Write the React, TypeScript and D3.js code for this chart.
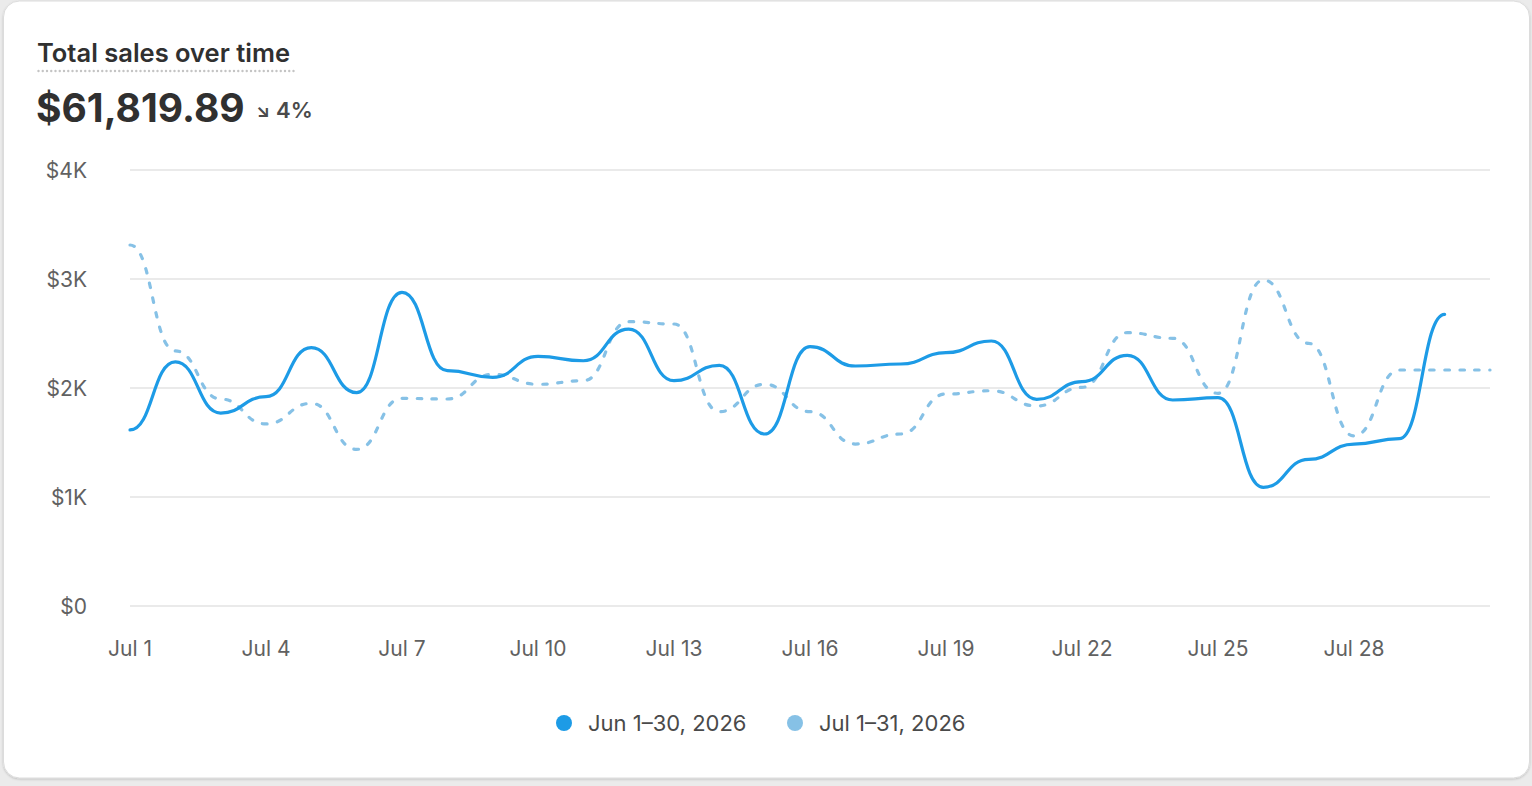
import { useRef, useEffect } from 'react';
import * as d3 from 'd3';

// Jun 1–30, 2026 (solid) and Jul 1–31, 2026 (dashed), one value per day
const juneSales = [
    1615, 2240, 1770, 1920, 2370, 1957, 2878, 2159, 2098, 2290,
    2250, 2541, 2067, 2208, 1578, 2379, 2202, 2220, 2324, 2431,
    1896, 2058, 2300, 1890, 1911, 1089, 1346, 1486, 1535, 2676,
];
const julySales = [
    3312, 2340, 1899, 1670, 1859, 1437, 1905, 1899, 2125, 2034,
    2067, 2609, 2587, 1783, 2034, 1783, 1486, 1578, 1945, 1975,
    1835, 2006, 2508, 2456, 1951, 2991, 2410, 1560, 2165, 2165,
    2165,
];
const xTickLabels = ['Jul 1', 'Jul 4', 'Jul 7', 'Jul 10', 'Jul 13', 'Jul 16', 'Jul 19', 'Jul 22', 'Jul 25', 'Jul 28'];
const yTicks = [0, 1000, 2000, 3000, 4000];
const legendLabels = ['Jun 1–30, 2026', 'Jul 1–31, 2026'];
const seriesColors = ['#1d9be6', '#86c1e6'];

export default function App() {
    const ref = useRef<HTMLDivElement | null>(null);

    useEffect(() => {
        if (!ref.current) return;
        const w = 1532;
        const h = 786;
        d3.select(ref.current).selectAll('*').remove();
        const svg = d3
            .select(ref.current)
            .append('svg')
            .attr('width', w)
            .attr('height', h)
            .style('display', 'block')
            .style('font-family', 'Inter, "Noto Sans", sans-serif');

        svg.append('rect').attr('width', w).attr('height', h).attr('fill', '#ebebeb');
        const defs = svg.append('defs');
        const f = defs.append('filter').attr('id', 'shadow').attr('x', '-5%').attr('y', '-5%').attr('width', '110%').attr('height', '110%');
        f.append('feDropShadow').attr('dx', 0).attr('dy', 1).attr('stdDeviation', 1).attr('flood-color', '#000').attr('flood-opacity', 0.18);
        svg.append('rect')
            .attr('x', 3.5)
            .attr('y', 1)
            .attr('width', 1526)
            .attr('height', 777)
            .attr('rx', 16)
            .attr('fill', '#fff')
            .attr('stroke', '#dcdcdc')
            .attr('filter', 'url(#shadow)');

        // header
        svg.append('text')
            .attr('x', 37)
            .attr('y', 62)
            .attr('font-size', 25.5)
            .attr('font-weight', 600)
            .attr('fill', '#303030')
            .text('Total sales over time');
        svg.append('line')
            .attr('x1', 38.5)
            .attr('x2', 294)
            .attr('y1', 71)
            .attr('y2', 71)
            .attr('stroke', '#c4c4c4')
            .attr('stroke-width', 2.4)
            .attr('stroke-linecap', 'round')
            .attr('stroke-dasharray', '0 4.25');
        svg.append('text')
            .attr('x', 36)
            .attr('y', 122)
            .attr('font-size', 39)
            .attr('font-weight', 700)
            .attr('fill', '#303030')
            .text('$61,819.89');
        svg.append('text')
            .attr('x', 256)
            .attr('y', 117)
            .attr('font-size', 18)
            .attr('font-weight', 700)
            .attr('fill', '#4a4a4a')
            .text('↘');
        svg.append('text')
            .attr('x', 276)
            .attr('y', 118)
            .attr('font-size', 22)
            .attr('font-weight', 600)
            .attr('fill', '#4a4a4a')
            .text('4%');

        const x = d3.scaleLinear().domain([0, 30]).range([130, 1490]);
        const y = d3.scaleLinear().domain([0, 4000]).range([606, 170]);

        const grid = svg.append('g');
        grid.selectAll('line')
            .data(yTicks)
            .join('line')
            .attr('x1', 130)
            .attr('x2', 1490)
            .attr('y1', (d) => y(d))
            .attr('y2', (d) => y(d))
            .attr('stroke', '#e3e3e3')
            .attr('stroke-width', 1.5);
        grid.selectAll('text')
            .data(yTicks)
            .join('text')
            .attr('x', 87)
            .attr('y', (d) => y(d) + 7.5)
            .attr('text-anchor', 'end')
            .attr('font-size', 21)
            .attr('fill', '#616161')
            .text((d) => (d === 0 ? '$0' : `$${d / 1000}K`));

        svg.append('g')
            .selectAll('text')
            .data(xTickLabels)
            .join('text')
            .attr('x', (_, i) => x(i * 3))
            .attr('y', 656)
            .attr('text-anchor', 'middle')
            .attr('font-size', 21)
            .attr('fill', '#616161')
            .text((d) => d);

        const line = d3
            .line<number>()
            .x((_, i) => x(i))
            .y((d) => y(d))
            .curve(d3.curveBumpX);

        svg.append('path')
            .attr('d', line(julySales))
            .attr('fill', 'none')
            .attr('stroke', seriesColors[1])
            .attr('stroke-width', 3.2)
            .attr('stroke-linecap', 'round')
            .attr('stroke-dasharray', '4.5 10.5');
        svg.append('path')
            .attr('d', line(juneSales))
            .attr('fill', 'none')
            .attr('stroke', seriesColors[0])
            .attr('stroke-width', 3.2)
            .attr('stroke-linecap', 'round');

        const legendX = [564, 795];
        const lg = svg.append('g');
        legendLabels.forEach((label, i) => {
            lg.append('circle').attr('cx', legendX[i]).attr('cy', 723).attr('r', 8).attr('fill', seriesColors[i]);
            lg.append('text')
                .attr('x', legendX[i] + 24)
                .attr('y', 730.5)
                .attr('font-size', 22)
                .attr('fill', '#4a4a4a')
                .text(label);
        });
    }, []);

    return <div ref={ref} style={{ position: 'fixed', left: 0, top: 0 }} />;
}
